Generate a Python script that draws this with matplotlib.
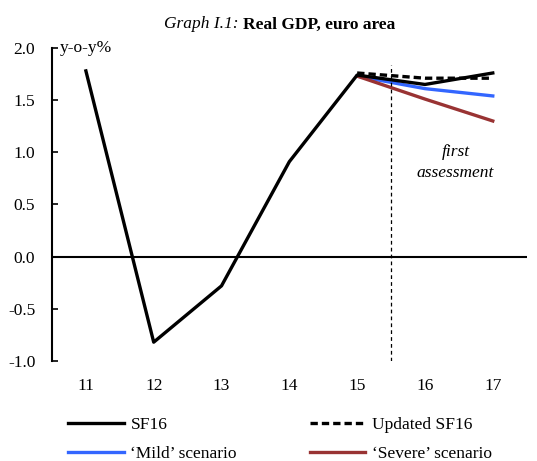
import matplotlib
matplotlib.use("Agg")
import matplotlib.pyplot as plt

years = [11, 12, 13, 14, 15, 16, 17]
sf16 = [1.78, -0.82, -0.28, 0.91, 1.74, 1.65, 1.76]
proj_years = [15, 16, 17]
updated_sf16 = [1.76, 1.71, 1.71]
mild = [1.73, 1.61, 1.54]
severe = [1.73, 1.51, 1.30]
tick_labels = ["11", "12", "13", "14", "15", "16", "17"]

FS = 12.5
plt.rcParams['font.family'] = ['Liberation Serif', 'DejaVu Serif']
plt.rcParams['font.size'] = FS

fig = plt.figure(figsize=(5.37, 4.61), dpi=100)
ax = fig.add_axes([0.0968, 0.217, 0.884, 0.679])

h_sf, = ax.plot(years, sf16, color='black', lw=2.4, label='SF16', zorder=3)
h_up, = ax.plot(proj_years, updated_sf16, color='black', lw=2.4, ls=(0, (2.2, 1.2)), label='Updated SF16', zorder=4)
h_mi, = ax.plot(proj_years, mild, color='#3366FF', lw=2.4, label='\u2018Mild\u2019 scenario', zorder=2)
h_se, = ax.plot(proj_years, severe, color='#993333', lw=2.4, label='\u2018Severe\u2019 scenario', zorder=2)

ax.axvline(15.5, ymin=0, ymax=(1.84 + 1) / 3, color='black', lw=0.9, ls=(0, (3, 2.5)))
ax.axhline(0, color='black', lw=1.5)

ax.set_xlim(10.5, 17.5)
ax.set_ylim(-1.0, 2.0)
ax.set_xticks(years)
ax.set_xticklabels(tick_labels)
ax.set_yticks([-1.0, -0.5, 0.0, 0.5, 1.0, 1.5, 2.0])
ax.set_yticklabels(['-1.0', '-0.5', '0.0', '0.5', '1.0', '1.5', '2.0'])
for s in ['top', 'right', 'bottom']:
    ax.spines[s].set_visible(False)
ax.spines['left'].set_linewidth(1.5)
ax.tick_params(axis='y', direction='in', length=4, width=1.2, pad=12)
ax.tick_params(axis='x', length=0, pad=12)

ax.text(16.45, 1.0, 'first', style='italic', ha='center', va='center', fontsize=FS)
ax.text(16.45, 0.80, 'assessment', style='italic', ha='center', va='center', fontsize=FS)
ax.text(10.62, 2.0, 'y-o-y%', ha='left', va='center', fontsize=FS)

fig.text(0.453, 0.947, 'Graph I.1: ', style='italic', ha='right', va='center', fontsize=FS)
fig.text(0.453, 0.947, 'Real GDP, euro area', weight='bold', ha='left', va='center', fontsize=FS)

fig.legend([h_sf, h_mi, h_up, h_se],
           ['SF16', '\u2018Mild\u2019 scenario', 'Updated SF16', '\u2018Severe\u2019 scenario'],
           loc='upper left', bbox_to_anchor=(68 / 537, 1 - 417 / 461), ncol=2,
           frameon=False, handlelength=3.2, columnspacing=4.2, handletextpad=0.4,
           labelspacing=0.72, borderpad=0, borderaxespad=0, fontsize=FS)

fig.savefig('out.png', dpi=100)
